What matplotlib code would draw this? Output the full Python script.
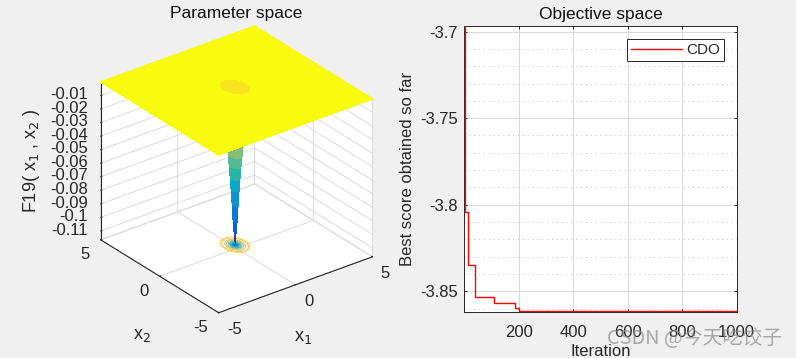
import numpy as np
import matplotlib
matplotlib.use('Agg')
import matplotlib.pyplot as plt
from matplotlib.colors import LinearSegmentedColormap

plt.rcParams['font.family'] = ['Liberation Sans', 'DejaVu Sans']
plt.rcParams['axes.unicode_minus'] = False
txt = '#262626'

# well of F19
well_x1 = 0.17
well_x2 = 0.35
well_x1_scale = 0.9
well_x2_scale = 1.21
well_r = [0.0, 0.03, 0.06, 0.1, 0.15, 0.2, 0.25, 0.3, 0.35, 0.41, 0.45, 0.5, 0.55, 0.6, 0.65, 0.7, 0.75, 0.8]
well_z = [-0.1147, -0.111, -0.106, -0.099, -0.087, -0.076, -0.067, -0.058, -0.05, -0.042, -0.037, -0.032,
          -0.028, -0.025, -0.022, -0.018, -0.011, 0.0]
z_ticks = [-0.11, -0.1, -0.09, -0.08, -0.07, -0.06, -0.05, -0.04, -0.03, -0.02, -0.01]
z_ticklabels = ['-0.11', '-0.1', '-0.09', '-0.08', '-0.07', '-0.06', '-0.05', '-0.04', '-0.03', '-0.02', '-0.01']
xy_ticks = [-5, 0, 5]

# convergence curve
iters = [1, 2, 3, 12, 13, 39, 40, 108, 109, 186, 187, 200, 201, 1000]
best = [-3.69, -3.804, -3.804, -3.804, -3.835, -3.835, -3.8534, -3.8534, -3.8569, -3.8569, -3.8598, -3.8598, -3.8612, -3.8612]
y_ticks = [-3.85, -3.8, -3.75, -3.7]
y_ticklabels = ['-3.85', '-3.8', '-3.75', '-3.7']
y_minor = [-3.86, -3.84, -3.83, -3.82, -3.81, -3.79, -3.78, -3.77, -3.76, -3.74, -3.73, -3.72, -3.71]
x_ticks = [200, 400, 600, 800, 1000]

parula = LinearSegmentedColormap.from_list('parula', ['#352A87', '#0363E1', '#1485D4', '#06A7C6', '#38B99E',
                                                      '#92BF73', '#D9BA56', '#FBBF3A', '#F9FB0E'])

fig = plt.figure(figsize=(7.96, 3.58), dpi=100, facecolor='#f0f0f0')
W, H = 796.0, 358.0

# left: surface
ax = fig.add_axes([37 / W, 14 / H, 390 / W, 340 / H], projection='3d', computed_zorder=False)
ax.set_proj_type('ortho')
ax.view_init(elev=28.3, azim=-127.5)
ax.set_box_aspect((194, 194, 179.5), zoom=0.935)
ax.patch.set_alpha(0)
zmin, zmax = -0.1166, 0.0
ax.set_xlim(-5, 5)
ax.set_ylim(-5, 5)
ax.set_zlim(zmin, zmax)

theta = np.linspace(-np.pi, np.pi, 73)
ax1, ax2_ = well_x1_scale, well_x2_scale
corners = [(5, 5), (-5, 5), (5, -5), (-5, -5)]
theta = np.sort(np.concatenate([theta, [np.arctan2((b - well_x2) / ax2_, (a - well_x1) / ax1) for a, b in corners]]))
R, T = np.meshgrid(well_r, theta)
Xw = well_x1 + ax1 * R * np.cos(T)
Yw = well_x2 + ax2_ * R * np.sin(T)
Zw = np.tile(well_z, (len(theta), 1))

ax.contour(Xw, Yw, Zw, levels=np.arange(-0.11, -0.004, 0.01), zdir='z', offset=zmin, cmap=parula,
           vmin=zmin, vmax=zmax, linewidths=0.6, zorder=1)
cone = ax.plot_surface(Xw, Yw, Zw, cmap=parula, vmin=zmin, vmax=zmax, rstride=1, cstride=1, linewidth=0,
                       antialiased=False, zorder=2)

# plate around the well, a strip from the rim out to the square edge
cs, sn = ax1 * np.cos(theta), ax2_ * np.sin(theta)
with np.errstate(divide='ignore', invalid='ignore'):
    sx = np.where(cs > 0, (5 - well_x1) / cs, np.where(cs < 0, (-5 - well_x1) / cs, np.inf))
    sy = np.where(sn > 0, (5 - well_x2) / sn, np.where(sn < 0, (-5 - well_x2) / sn, np.inf))
s = np.minimum(sx, sy)
rim = well_r[-1]
Xp = np.column_stack([well_x1 + rim * cs, well_x1 + s * cs])
Yp = np.column_stack([well_x2 + rim * sn, well_x2 + s * sn])
ax.plot_surface(Xp, Yp, np.zeros_like(Xp), color='#F9FB0E', shade=False, rstride=1, cstride=1, linewidth=0.3,
                edgecolor='#F9FB0E', antialiased=False, zorder=3)

ax.set_xticks(xy_ticks)
ax.set_yticks(xy_ticks)
ax.set_zticks(z_ticks)
ax.set_zticklabels(z_ticklabels)
ax.zaxis.set_ticks_position('upper')
ax.zaxis.set_label_position('upper')
for a in (ax.xaxis, ax.yaxis, ax.zaxis):
    a.set_pane_color((1, 1, 1, 1))
    a.pane.set_edgecolor('#dcdcdc')
    a.pane.set_linewidth(0.7)
    a._axinfo['grid']['color'] = '#dcdcdc'
    a._axinfo['grid']['linewidth'] = 0.7
    a._axinfo['tick']['linewidth'] = {True: 0.7, False: 0.7}
    a._axinfo['tick']['inward_factor'] = 0.0
    a._axinfo['tick']['outward_factor'] = 0.08
    a.line.set_color(txt)
    a.line.set_linewidth(0.8)
ax.tick_params(axis='x', labelsize=12, colors=txt, pad=1)
ax.tick_params(axis='y', labelsize=12, colors=txt, pad=1)
ax.tick_params(axis='z', labelsize=12, colors=txt, pad=-2)
plt.setp(ax.get_xticklabels(), ha='left', va='center')
plt.setp(ax.get_yticklabels(), ha='right', va='center')
plt.setp(ax.get_zticklabels(), ha='right', va='center')
fig.text(303 / W, 1 - 338 / H, 'x$_1$', ha='center', va='center', fontsize=13, color=txt)
fig.text(142 / W, 1 - 336 / H, 'x$_2$', ha='center', va='center', fontsize=13, color=txt)
fig.text(32 / W, 1 - 161 / H, 'F19( x$_1$ , x$_2$ )', ha='center', va='center', rotation=90, fontsize=13, color=txt)
fig.text(236.5 / W, 1 - 13.5 / H, 'Parameter space', ha='center', va='center', fontsize=12.5, color='#111111')

# right: convergence
ax2 = fig.add_axes([464.5 / W, 1 - 311.5 / H, 272 / W, 285.5 / H])
ax2.step(iters, best, where='post', color='#ff0000', lw=1.0, label='CDO', zorder=3)
ax2.set_xlim(1, 1000)
ax2.set_ylim(-3.8616, -3.6968)
ax2.set_xticks(x_ticks)
ax2.set_yticks(y_ticks)
ax2.set_yticklabels(y_ticklabels)
ax2.set_yticks(y_minor, minor=True)
ax2.tick_params(axis='both', which='major', direction='in', length=2.2, width=0.7, top=True, right=True,
                labelsize=12, colors=txt)
ax2.tick_params(axis='x', which='major', pad=10)
ax2.tick_params(axis='y', which='major', pad=5)
ax2.tick_params(axis='y', which='minor', length=0)
ax2.grid(True, which='major', color='#d9d9d9', lw=0.7)
ax2.grid(True, which='minor', axis='y', color='#bdbdbd', lw=0.7, linestyle=(0, (1, 4)))
ax2.set_axisbelow(True)
for sp in ax2.spines.values():
    sp.set_color(txt)
    sp.set_linewidth(0.7)
ax2.set_title('Objective space', fontsize=12.5, color='#111111', pad=5)
fig.text(601 / W, 1 - 352 / H, 'Iteration', ha='center', va='center', fontsize=12, color=txt)
fig.text(407 / W, 1 - 169 / H, 'Best score obtained so far', ha='center', va='center', rotation=90, fontsize=12, color=txt)
leg = ax2.legend(loc='upper right', bbox_to_anchor=(0.954, 0.954), fontsize=11, fancybox=False, framealpha=1,
                 edgecolor=txt, borderpad=0.25, handlelength=3.3, handletextpad=0.3, borderaxespad=0)
leg.get_frame().set_linewidth(0.7)
for t in leg.get_texts():
    t.set_color(txt)

fig.text(695 / W, 1 - 339 / H, 'CSDN @今天吃饺子', ha='center', va='center', fontsize=14.3, color='#8a8a8a', alpha=0.7,
         family=['Noto Sans CJK SC', 'DejaVu Sans'])

fig.savefig('out.png', dpi=100, facecolor=fig.get_facecolor())
